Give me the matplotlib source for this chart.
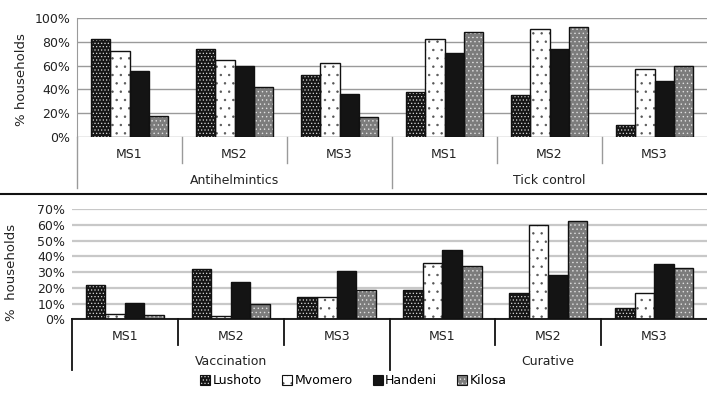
import matplotlib
matplotlib.use("Agg")
import matplotlib.pyplot as plt
from matplotlib.patches import Patch
from matplotlib.lines import Line2D
from matplotlib.transforms import blended_transform_factory
from matplotlib.ticker import PercentFormatter

districts = ['Lushoto', 'Mvomero', 'Handeni', 'Kilosa']
strategies = ['MS1', 'MS2', 'MS3']
top_groups = ['Antihelmintics', 'Tick control']
bottom_groups = ['Vaccination', 'Curative']

# % households; order: group 1 MS1-MS3, group 2 MS1-MS3
top_lushoto = [82, 74, 52, 37.5, 35, 10.5]
top_mvomero = [72.5, 65, 62, 82.5, 90.5, 57]
top_handeni = [55.5, 60, 36.5, 71, 74, 47]
top_kilosa = [18, 42, 16.5, 88.5, 92.5, 59.5]

bot_lushoto = [22, 32, 14, 18.5, 17, 7]
bot_mvomero = [3.5, 2, 14, 36, 60, 16.5]
bot_handeni = [10.5, 24, 30.5, 44, 28.5, 35]
bot_kilosa = [3, 10, 18.5, 34, 62.5, 32.5]

# face, hatch, hatch colour
styles = {
    'Lushoto': ('#161616', '.....', '#d8d8d8'),
    'Mvomero': ('white', '..', '#555555'),
    'Handeni': ('#141414', None, None),
    'Kilosa': ('#7c7c7c', '....', '#e0e0e0'),
}

plt.rcParams['font.family'] = 'DejaVu Sans'
plt.rcParams['hatch.linewidth'] = 0.5

W, H = 707, 396
fig = plt.figure(figsize=(W / 100, H / 100), dpi=100)


def px_axes(left, top, right, bottom):
    return fig.add_axes([left / W, 1 - bottom / H, (right - left) / W, (bottom - top) / H])


def draw_bars(ax, series):
    bw = 0.185
    for j, (name, vals) in enumerate(zip(districts, series)):
        face, hatch, hc = styles[name]
        xs = [i + 0.5 + (j - 1.5) * bw for i in range(len(vals))]
        ax.bar(xs, vals, bw, color=face, edgecolor='none', zorder=3)
        if hatch:
            ax.bar(xs, vals, bw, fill=False, hatch=hatch, edgecolor=hc, linewidth=0, zorder=4)
        ax.bar(xs, vals, bw, fill=False, edgecolor='#111111', linewidth=1.0, zorder=5)


def cat_axis(ax, groups, color, lw, h_px, ms_px, short_px, grp_px, long_px):
    tr = blended_transform_factory(ax.transData, ax.transAxes)
    f = lambda p: -p / h_px
    for i in range(6):
        ax.text(i + 0.5, f(ms_px), strategies[i % 3], transform=tr, ha='center', va='center',
                fontsize=9, color='#222222', clip_on=False)
    for g, name in enumerate(groups):
        ax.text(g * 3 + 1.5, f(grp_px), name, transform=tr, ha='center', va='center',
                fontsize=9, color='#222222', clip_on=False)
    for i in range(1, 6):
        end = long_px if i % 3 == 0 else short_px
        ax.add_line(Line2D([i, i], [0, f(end)], transform=tr, color=color, lw=lw, clip_on=False))
    ax.add_line(Line2D([0, 0], [0, f(long_px)], transform=tr, color=color, lw=lw, clip_on=False))


# top panel
ax1 = px_axes(77, 18, 707, 137)
draw_bars(ax1, [top_lushoto, top_mvomero, top_handeni, top_kilosa])
ax1.set_xlim(0, 6)
ax1.set_ylim(0, 100)
ax1.set_yticks(range(0, 101, 20))
ax1.yaxis.set_major_formatter(PercentFormatter(decimals=0))
ax1.grid(axis='y', color='#9a9a9a', lw=1, zorder=0)
ax1.set_xticks([])
for s in ['top', 'right', 'bottom']:
    ax1.spines[s].set_visible(False)
ax1.spines['left'].set_color('#9a9a9a')
ax1.tick_params(axis='y', length=0, labelsize=9, labelcolor='#222222', pad=5)
cat_axis(ax1, top_groups, '#9a9a9a', 1.0, 119, 18, 26, 43, 51)

# bottom panel
ax2 = px_axes(72, 209.3, 707, 319.3)
draw_bars(ax2, [bot_lushoto, bot_mvomero, bot_handeni, bot_kilosa])
ax2.set_xlim(0, 6)
ax2.set_ylim(0, 70)
ax2.set_yticks(range(0, 71, 10))
ax2.yaxis.set_major_formatter(PercentFormatter(decimals=0))
ax2.grid(axis='y', color='#c8c8c8', lw=1.6, zorder=0)
ax2.set_xticks([])
for s in ['top', 'right', 'left']:
    ax2.spines[s].set_visible(False)
ax2.spines['bottom'].set_color('#111111')
ax2.spines['bottom'].set_linewidth(1.3)
ax2.spines['bottom'].set_zorder(6)
ax2.tick_params(axis='y', length=0, labelsize=9, labelcolor='#222222', pad=5)
cat_axis(ax2, bottom_groups, '#111111', 1.3, 110, 17.4, 25.7, 42.4, 50.7)

# y labels
fig.text(22 / W, 1 - 80 / H, '% households', rotation=90, ha='center', va='center',
         fontsize=9.5, color='#222222')
fig.text(12 / W, 1 - 272 / H, '%  households', rotation=90, ha='center', va='center',
         fontsize=9.5, color='#222222')

# separator between panels
fig.add_artist(Line2D([0, 1], [1 - 193.5 / H] * 2, transform=fig.transFigure, color='#111111', lw=1.5))

handles = []
for name in districts:
    face, hatch, hc = styles[name]
    base = Patch(facecolor=face, edgecolor='none')
    outline = Patch(fill=False, edgecolor='#111111', lw=0.8)
    if hatch:
        handles.append((base, Patch(fill=False, hatch=hatch, edgecolor=hc, lw=0), outline))
    else:
        handles.append((base, outline))
fig.legend(handles, districts, loc='center', bbox_to_anchor=(0.5, 1 - 381 / H), ncol=4,
           frameon=False, fontsize=9, handlelength=0.8, handleheight=0.8,
           handletextpad=0.2, columnspacing=1.6)

fig.savefig('out.png', dpi=100)
